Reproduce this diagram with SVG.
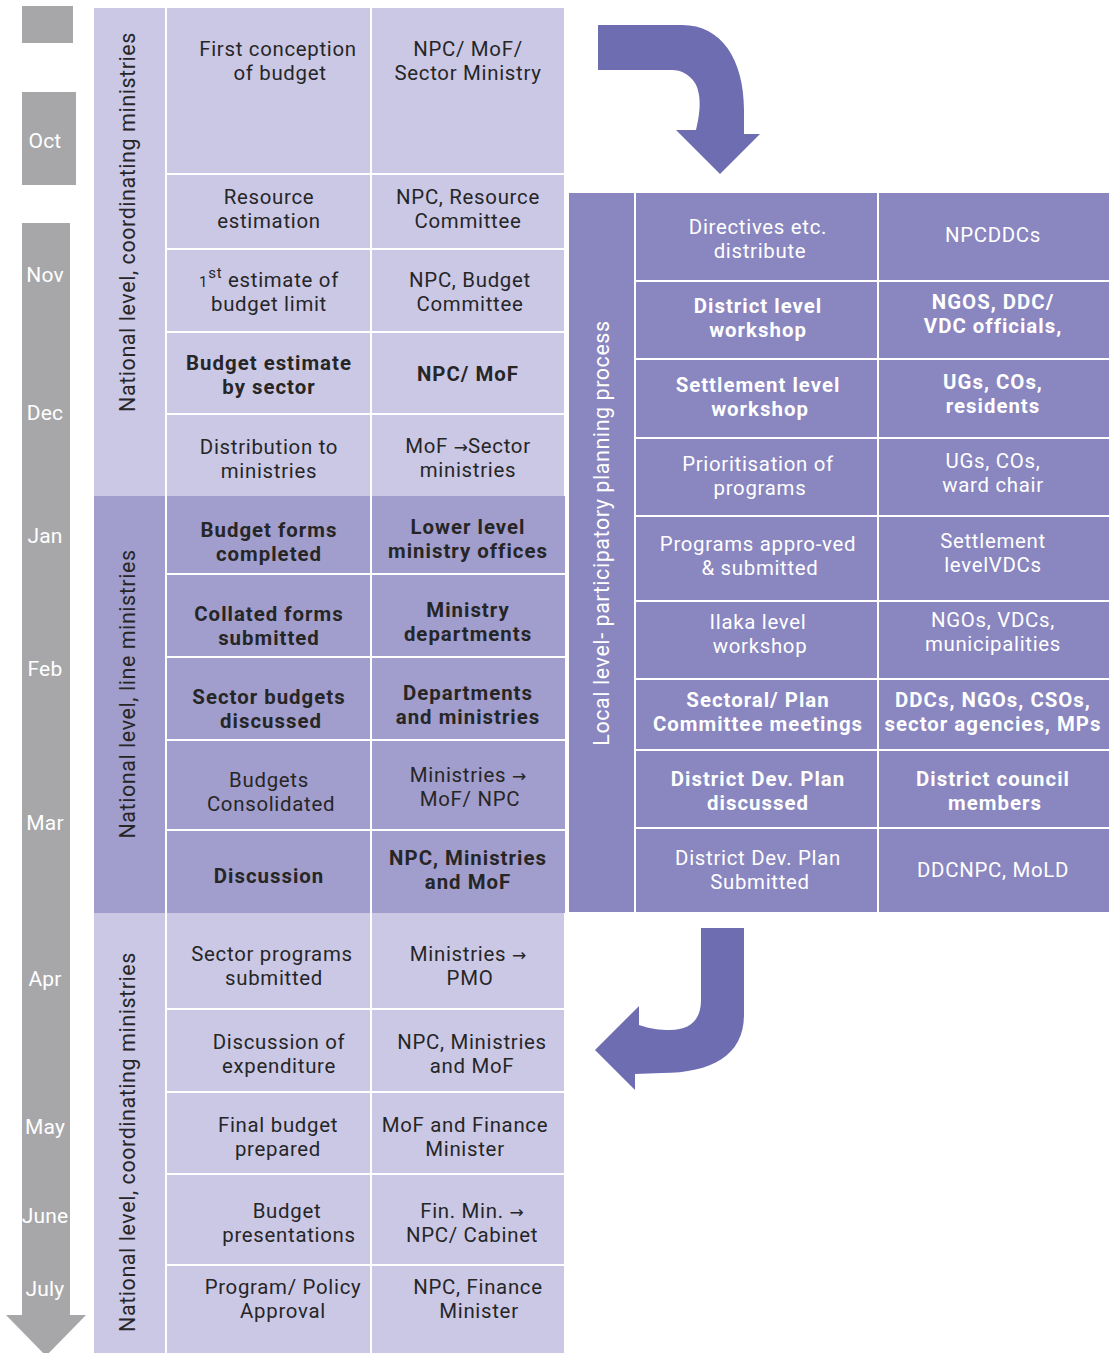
<svg xmlns="http://www.w3.org/2000/svg" width="1109" height="1353" viewBox="0 0 1109 1353">
<style>
text{font-family:Roboto,"Open Sans","Liberation Sans",sans-serif;font-size:20.4px;letter-spacing:0.7px;text-anchor:middle}
.t{fill:#262626}
.tb{fill:#262626;font-weight:bold;letter-spacing:1px}
.w{fill:#ffffff}
.wb{fill:#ffffff;font-weight:bold;letter-spacing:1px}
.m{fill:#ffffff;font-size:21px;letter-spacing:0.2px}
.v{fill:#262626;font-size:21.5px;letter-spacing:0.55px}
.vw{fill:#ffffff;font-size:21.5px;letter-spacing:0.55px}
.ar{font-family:"DejaVu Sans",sans-serif;font-size:17px;letter-spacing:0}
.light{fill:#cbc8e6}
.med{fill:#a19dcc}
.right{fill:#8a86c0}
.gray{fill:#a7a7aa}
.div{stroke:#ffffff;stroke-width:2;fill:none}
.arrow{fill:#6f6db2}
</style>
<rect x="0" y="0" width="1109" height="1353" fill="#ffffff"/>

<g id="timeline">
<rect class="gray" x="22" y="6" width="51" height="37"/>
<rect class="gray" x="22" y="92" width="54" height="93"/>
<path class="gray" d="M22,223 L70,223 L70,1315 L86,1315 L46,1356 L6,1315 L22,1315 Z"/>
<text class="m" x="45" y="148">Oct</text>
<text class="m" x="45" y="282">Nov</text>
<text class="m" x="45" y="420">Dec</text>
<text class="m" x="45" y="543">Jan</text>
<text class="m" x="45" y="676">Feb</text>
<text class="m" x="45" y="830">Mar</text>
<text class="m" x="45" y="986">Apr</text>
<text class="m" x="45" y="1134">May</text>
<text class="m" x="45" y="1223">June</text>
<text class="m" x="45" y="1296">July</text>
</g>

<g id="left-table">
<rect class="light" x="94" y="8" width="470" height="488"/>
<rect class="med" x="94" y="496" width="471" height="417"/>
<rect class="light" x="94" y="913" width="470" height="440"/>
<line class="div" x1="166" y1="8" x2="166" y2="1353"/>
<line class="div" x1="371" y1="8" x2="371" y2="1353"/>
<path class="div" d="M166,174H564M166,249H564M166,332H564M166,414H564M166,574H565M166,657H565M166,740H565M166,830H565M166,1009H564M166,1092H564M166,1174H564M166,1265H564"/>
</g>

<g id="label-national-coord-1"><text class="v" transform="translate(135,222) rotate(-90)">National level, coordinating ministries</text></g>
<g id="label-national-line"><text class="v" transform="translate(135,694) rotate(-90)">National level, line ministries</text></g>
<g id="label-national-coord-2"><text class="v" transform="translate(135,1142) rotate(-90)">National level, coordinating ministries</text></g>

<g id="n1"><text class="t" x="278" y="56">First conception<tspan x="280" dy="24">of budget</tspan></text></g>
<g id="n1b"><text class="t" x="468" y="56">NPC/ MoF/<tspan x="468" dy="24">Sector Ministry</tspan></text></g>
<g id="n2"><text class="t" x="269" y="204">Resource<tspan x="269" dy="24">estimation</tspan></text></g>
<g id="n2b"><text class="t" x="468" y="204">NPC, Resource<tspan x="468" dy="24">Committee</tspan></text></g>
<g id="n3"><text class="t" x="269" y="287"><tspan font-size="15">1</tspan><tspan font-size="15" dy="-9">st</tspan><tspan dy="9"> estimate of</tspan><tspan x="269" dy="24">budget limit</tspan></text></g>
<g id="n3b"><text class="t" x="470" y="287">NPC, Budget<tspan x="470" dy="24">Committee</tspan></text></g>
<g id="n4"><text class="tb" x="269" y="370">Budget estimate<tspan x="269" dy="24">by sector</tspan></text></g>
<g id="n4b"><text class="tb" x="468" y="381">NPC/ MoF</text></g>
<g id="n5"><text class="t" x="269" y="454">Distribution to<tspan x="269" dy="24">ministries</tspan></text></g>
<g id="n5b"><text class="t" x="468" y="453">MoF <tspan class="ar">→</tspan>Sector<tspan x="468" dy="24">ministries</tspan></text></g>

<g id="n6"><text class="tb" x="269" y="537">Budget forms<tspan x="269" dy="24">completed</tspan></text></g>
<g id="n6b"><text class="tb" x="468" y="534">Lower level<tspan x="468" dy="24">ministry offices</tspan></text></g>
<g id="n7"><text class="tb" x="269" y="621">Collated forms<tspan x="269" dy="24">submitted</tspan></text></g>
<g id="n7b"><text class="tb" x="468" y="617">Ministry<tspan x="468" dy="24">departments</tspan></text></g>
<g id="n8"><text class="tb" x="269" y="704">Sector budgets<tspan x="271" dy="24">discussed</tspan></text></g>
<g id="n8b"><text class="tb" x="468" y="700">Departments<tspan x="468" dy="24">and ministries</tspan></text></g>
<g id="n9"><text class="t" x="269" y="787">Budgets<tspan x="271" dy="24">Consolidated</tspan></text></g>
<g id="n9b"><text class="t" x="468" y="782">Ministries <tspan class="ar">→</tspan><tspan x="470" dy="24">MoF/ NPC</tspan></text></g>
<g id="n10"><text class="tb" x="269" y="883">Discussion</text></g>
<g id="n10b"><text class="tb" x="468" y="865">NPC, Ministries<tspan x="468" dy="24">and MoF</tspan></text></g>

<g id="n11"><text class="t" x="272" y="961">Sector programs<tspan x="274" dy="24">submitted</tspan></text></g>
<g id="n11b"><text class="t" x="468" y="961">Ministries <tspan class="ar">→</tspan><tspan x="470" dy="24">PMO</tspan></text></g>
<g id="n12"><text class="t" x="279" y="1049">Discussion of<tspan x="279" dy="24">expenditure</tspan></text></g>
<g id="n12b"><text class="t" x="472" y="1049">NPC, Ministries<tspan x="472" dy="24">and MoF</tspan></text></g>
<g id="n13"><text class="t" x="278" y="1132">Final budget<tspan x="278" dy="24">prepared</tspan></text></g>
<g id="n13b"><text class="t" x="465" y="1132">MoF and Finance<tspan x="465" dy="24">Minister</tspan></text></g>
<g id="n14"><text class="t" x="287" y="1218">Budget<tspan x="289" dy="24">presentations</tspan></text></g>
<g id="n14b"><text class="t" x="472" y="1218">Fin. Min. <tspan class="ar">→</tspan><tspan x="472" dy="24">NPC/ Cabinet</tspan></text></g>
<g id="n15"><text class="t" x="283" y="1294">Program/ Policy<tspan x="283" dy="24">Approval</tspan></text></g>
<g id="n15b"><text class="t" x="478" y="1294">NPC, Finance<tspan x="479" dy="24">Minister</tspan></text></g>

<g id="right-table">
<rect class="right" x="569" y="193" width="540" height="719"/>
<line class="div" x1="635" y1="193" x2="635" y2="912"/>
<line class="div" x1="878" y1="193" x2="878" y2="912"/>
<path class="div" d="M635,281H1109M635,359H1109M635,438H1109M635,516H1109M635,601H1109M635,679H1109M635,750H1109M635,828H1109"/>
</g>
<g id="label-local"><text class="vw" transform="translate(609,533) rotate(-90)">Local level- participatory planning process</text></g>

<g id="r1"><text class="w" x="758" y="234">Directives etc.<tspan x="760" dy="24">distribute</tspan></text></g>
<g id="r1b"><text class="w" x="993" y="242">NPCDDCs</text></g>
<g id="r2"><text class="wb" x="758" y="313">District level<tspan x="758" dy="24">workshop</tspan></text></g>
<g id="r2b"><text class="wb" x="993" y="309">NGOS, DDC/<tspan x="993" dy="24">VDC officials,</tspan></text></g>
<g id="r3"><text class="wb" x="758" y="392">Settlement level<tspan x="760" dy="24">workshop</tspan></text></g>
<g id="r3b"><text class="wb" x="993" y="389">UGs, COs,<tspan x="993" dy="24">residents</tspan></text></g>
<g id="r4"><text class="w" x="758" y="471">Prioritisation of<tspan x="760" dy="24">programs</tspan></text></g>
<g id="r4b"><text class="w" x="993" y="468">UGs, COs,<tspan x="993" dy="24">ward chair</tspan></text></g>
<g id="r5"><text class="w" x="758" y="551">Programs appro-ved<tspan x="760" dy="24">&amp; submitted</tspan></text></g>
<g id="r5b"><text class="w" x="993" y="548">Settlement<tspan x="993" dy="24">levelVDCs</tspan></text></g>
<g id="r6"><text class="w" x="758" y="629">Ilaka level<tspan x="760" dy="24">workshop</tspan></text></g>
<g id="r6b"><text class="w" x="993" y="627">NGOs, VDCs,<tspan x="993" dy="24">municipalities</tspan></text></g>
<g id="r7"><text class="wb" x="758" y="707">Sectoral/ Plan<tspan x="758" dy="24">Committee meetings</tspan></text></g>
<g id="r7b"><text class="wb" x="993" y="707">DDCs, NGOs, CSOs,<tspan x="993" dy="24">sector agencies, MPs</tspan></text></g>
<g id="r8"><text class="wb" x="758" y="786">District Dev. Plan<tspan x="758" dy="24">discussed</tspan></text></g>
<g id="r8b"><text class="wb" x="993" y="786">District council<tspan x="995" dy="24">members</tspan></text></g>
<g id="r9"><text class="w" x="758" y="865">District Dev. Plan<tspan x="760" dy="24">Submitted</tspan></text></g>
<g id="r9b"><text class="w" x="993" y="877">DDCNPC, MoLD</text></g>

<g id="connectors">
<path class="arrow" d="M598,25 L682,25 C722,25 744,60 744,110 L744,134 L760,134 L720,174 L676,130 L696,130 C702,106 700,92 695,83 C689,74 681,70 672,70 L598,70 Z"/>
<path class="arrow" d="M701,928 L744,928 L744,1015 C744,1055 712,1073 662,1073 L635,1074 L635,1090 L595,1050 L639,1006 L639,1025 C650,1029 660,1030 670,1030 C690,1030 701,1020 701,1000 Z"/>
</g>
</svg>
